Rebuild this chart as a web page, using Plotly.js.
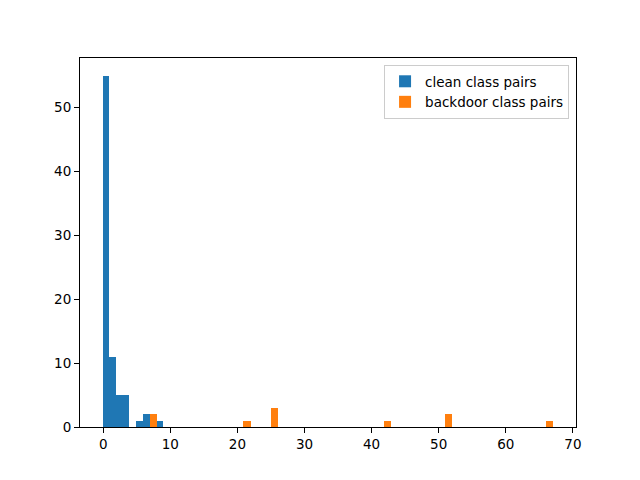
<!DOCTYPE html>
<html>
<head>
<meta charset="utf-8">
<script src="https://cdn.plot.ly/plotly-3.0.1.min.js"></script>
<style>
  body { margin: 0; }
  #plot { width: 640px; height: 480px; }
</style>
</head>
<body>
<div id="plot"></div>
<script>
'use strict'

// histogram bins (left edge, count)
let cleanLeft = [-0.1, 0.9, 1.9, 2.9, 3.9, 4.9, 5.9, 6.9, 7.9]
let cleanCounts = [55, 11, 5, 5, 0, 1, 2, 0, 1]
let cleanWidth = 1.0

let backdoorLeft = [6.9, 20.9, 24.95, 41.9, 51.0, 66.0]
let backdoorCounts = [2, 1, 3, 1, 2, 1]
let backdoorWidth = 1.05

let xTicks = [0, 10, 20, 30, 40, 50, 60, 70]
let yTicks = [0, 10, 20, 30, 40, 50]

function showHist() {
  let traces = [
    {
      x: cleanLeft,
      y: cleanCounts,
      width: cleanLeft.map(() => cleanWidth),
      offset: 0,
      type: 'bar',
      name: 'clean class pairs',
      marker: {color: '#1f77b4', line: {width: 0}}
    },
    {
      x: backdoorLeft,
      y: backdoorCounts,
      width: backdoorLeft.map(() => backdoorWidth),
      offset: 0,
      type: 'bar',
      name: 'backdoor class pairs',
      marker: {color: '#ff7f0e', line: {width: 0}}
    }
  ]
  let axisStyle = {
    showgrid: false,
    zeroline: false,
    showline: true,
    mirror: true,
    linecolor: 'black',
    linewidth: 1,
    ticks: 'outside',
    ticklen: 5,
    tickwidth: 1,
    tickcolor: 'black',
    tickfont: {family: 'DejaVu Sans', size: 13.5, color: 'black'}
  }
  let layout = {
    width: 640,
    height: 480,
    margin: {l: 80, r: 64, t: 58, b: 53},
    paper_bgcolor: 'white',
    plot_bgcolor: 'white',
    barmode: 'overlay',
    bargap: 0,
    font: {family: 'DejaVu Sans', size: 13.5, color: 'black'},
    xaxis: Object.assign({}, axisStyle, {range: [-3.46, 70.46], tickvals: xTicks}),
    yaxis: Object.assign({}, axisStyle, {range: [0, 57.75], tickvals: yTicks}),
    showlegend: true,
    legend: {
      x: 0.986, y: 0.981, xanchor: 'right', yanchor: 'top',
      bgcolor: 'rgba(255,255,255,0.8)',
      bordercolor: '#cccccc',
      borderwidth: 1,
      font: {family: 'DejaVu Sans', size: 13.5, color: 'black'},
      tracegroupgap: 0
    }
  }
  Plotly.newPlot('plot', traces, layout, {displayModeBar: false, staticPlot: true})
}

showHist()
</script>
</body>
</html>
